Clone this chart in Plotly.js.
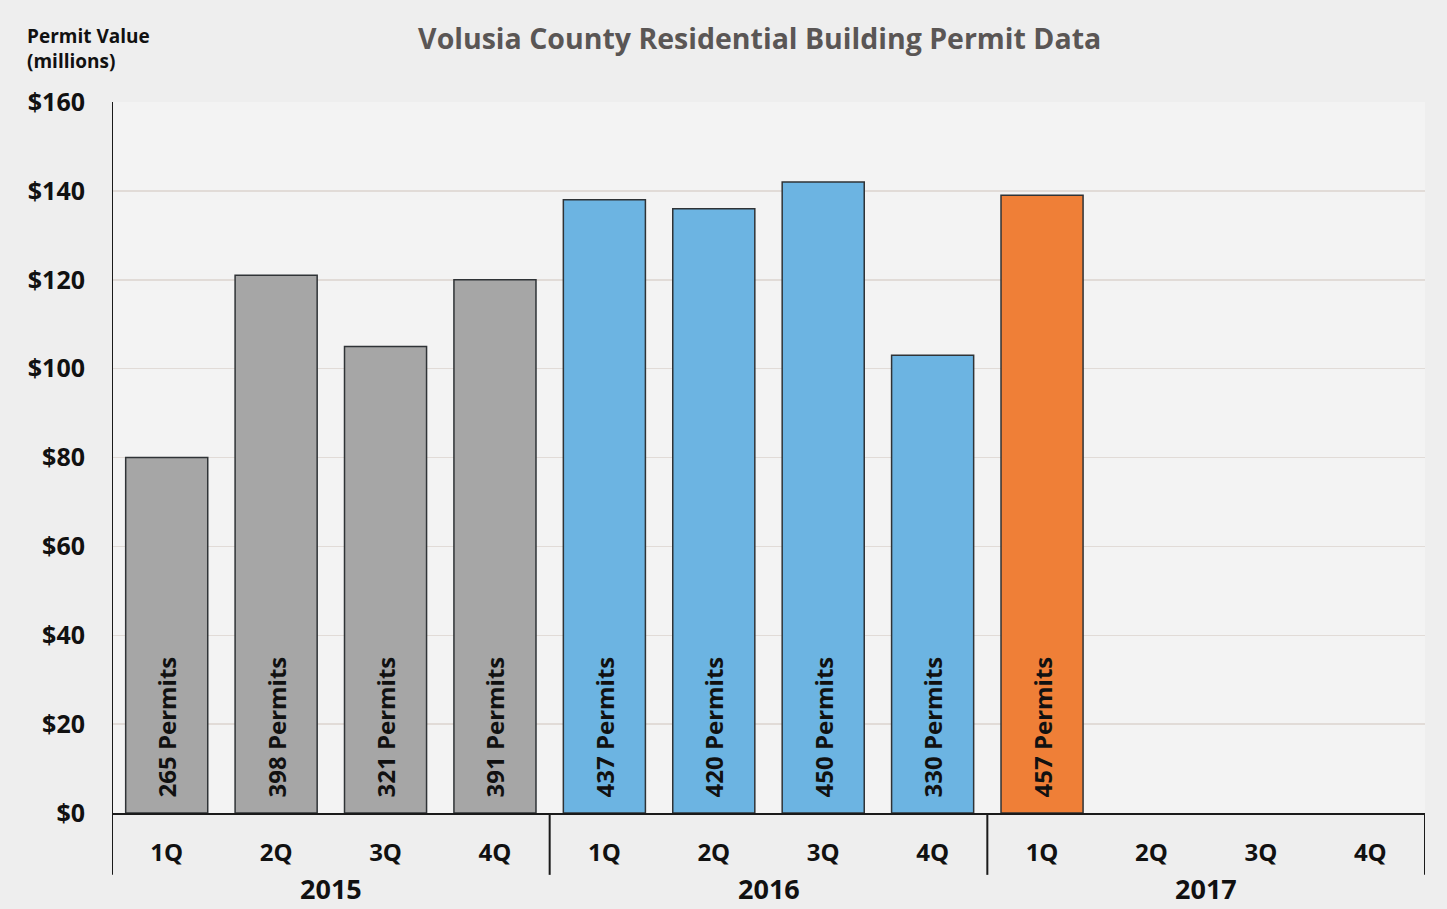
<!DOCTYPE html>
<html>
<head>
<meta charset="utf-8">
<script src="https://cdn.plot.ly/plotly-3.0.1.min.js"></script>
<style>
  html, body { margin: 0; padding: 0; background: #eeeeee; }
  #chart { width: 1447px; height: 909px; }
</style>
</head>
<body>
<div id="chart"></div>
<script>
// ---- data ----
const years = ['2015', '2016', '2017'];
const quarters = ['1Q', '2Q', '3Q', '4Q'];
const permitValue2015 = [80, 121, 105, 120];
const permitValue2016 = [138, 136, 142, 103];
const permitValue2017 = [139, null, null, null];
const permits2015 = [265, 398, 321, 391];
const permits2016 = [437, 420, 450, 330];
const permits2017 = [457, null, null, null];
const yTicks = [0, 20, 40, 60, 80, 100, 120, 140, 160];

// ---- styles ----
const yearColors = ['#a6a6a6', '#6cb4e2', '#ef7f37'];
const FONT = 'Open Sans, Lato, sans-serif';

const valuesByYear = [permitValue2015, permitValue2016, permitValue2017];
const permitsByYear = [permits2015, permits2016, permits2017];

const traces = years.map((yr, gi) => {
  const xs = quarters.map((q, qi) => gi * quarters.length + qi);
  return {
    type: 'bar',
    x: xs,
    y: valuesByYear[gi],
    text: permitsByYear[gi].map(p => p == null ? '' : '<b>&nbsp;&nbsp;' + p + ' Permits</b>'),
    textposition: 'inside',
    insidetextanchor: 'start',
    textangle: -90,
    textfont: { family: FONT, size: 24, color: '#111111' },
    constraintext: 'none',
    marker: { color: yearColors[gi], line: { color: '#2f3336', width: 1.5 } },
    width: 0.75,
    hoverinfo: 'skip',
    showlegend: false
  };
});

const nCat = years.length * quarters.length;
const tickvals = [];
const ticktext = [];
years.forEach((yr, gi) => quarters.forEach((q, qi) => {
  tickvals.push(gi * quarters.length + qi);
  ticktext.push('<b>' + q + '</b>');
}));

const shapes = [];
// extended left axis line
shapes.push({ type: 'line', xref: 'x', yref: 'paper', x0: -0.5, x1: -0.5, y0: -0.087, y1: 1, line: { color: '#1a1a1a', width: 2 } });
// group dividers + right end
for (let gi = 1; gi <= years.length; gi++) {
  const xd = gi * quarters.length - 0.5;
  shapes.push({ type: 'line', xref: 'x', yref: 'paper', x0: xd, x1: xd, y0: -0.087, y1: 0, line: { color: '#1a1a1a', width: 2 } });
}

const annotations = years.map((yr, gi) => ({
  xref: 'x', yref: 'paper',
  x: gi * quarters.length + (quarters.length - 1) / 2,
  y: -0.1055, yanchor: 'middle',
  text: '<b>' + yr + '</b>',
  showarrow: false,
  font: { family: FONT, size: 27, color: '#111111' }
}));
annotations.push({
  xref: 'paper', yref: 'paper', x: -0.0663, y: 1.036, xanchor: 'left', yanchor: 'bottom', align: 'left',
  text: '<b>Permit Value<br>(millions)</b>', showarrow: false,
  font: { family: FONT, size: 19, color: '#111111' }
});

const layout = {
  width: 1447, height: 909,
  paper_bgcolor: '#eeeeee',
  plot_bgcolor: '#f3f3f3',
  margin: { l: 112, r: 22, t: 102, b: 96 },
  title: {
    text: '<b>Volusia County Residential Building Permit Data</b>',
    x: 0.525, xanchor: 'center', y: 0.957, yanchor: 'middle',
    font: { family: FONT, size: 28.5, color: '#5a5655' }
  },
  bargap: 0.25,
  xaxis: {
    range: [-0.5, nCat - 0.5],
    tickvals: tickvals, ticktext: ticktext,
    tickfont: { family: FONT, size: 24, color: '#111111' },
    ticks: '', ticklabelstandoff: 17,
    showline: true, linecolor: '#1a1a1a', linewidth: 2,
    showgrid: false, zeroline: false, fixedrange: true
  },
  yaxis: {
    range: [0, 160],
    tickvals: yTicks,
    ticktext: yTicks.map(v => '<b>$' + v + '</b>'),
    tickfont: { family: FONT, size: 25, color: '#111111' },
    ticks: '', ticklabelstandoff: 26,
    showline: false,
    showgrid: true, gridcolor: '#e1dbd7', gridwidth: 1.5,
    zeroline: false, fixedrange: true
  },
  shapes: shapes,
  annotations: annotations
};

Plotly.newPlot('chart', traces, layout, { displayModeBar: false, staticPlot: true });
</script>
</body>
</html>
